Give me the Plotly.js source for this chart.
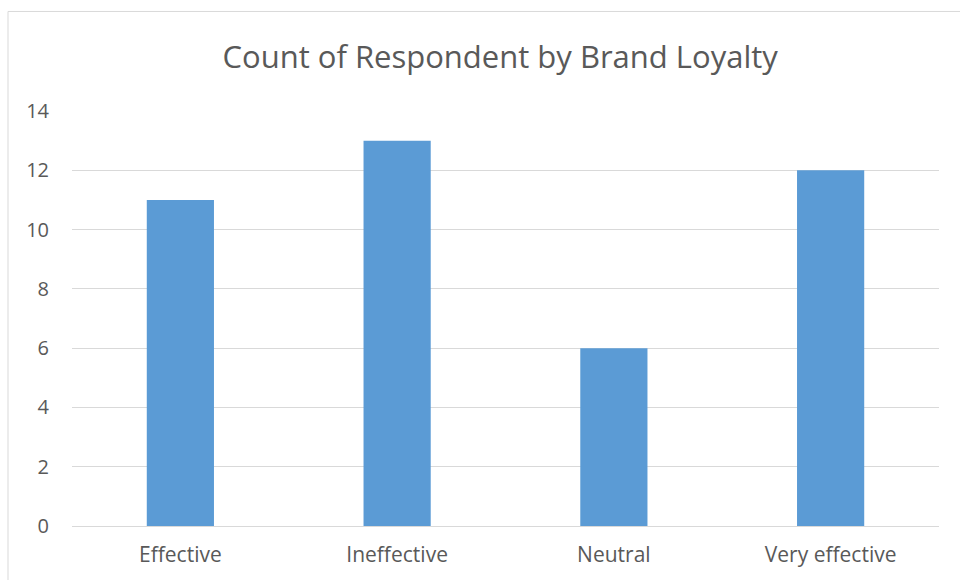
<!DOCTYPE html>
<html>
<head>
<meta charset="utf-8">
<script src="https://cdn.plot.ly/plotly-3.0.1.min.js"></script>
<style>
html,body{margin:0;padding:0;background:#fff;}
#chart{width:960px;height:580px;}
</style>
</head>
<body>
<div id="chart"></div>
<script>
const categories = ["Effective", "Ineffective", "Neutral", "Very effective"];
const counts = [11, 13, 6, 12];
const yTicks = [0, 2, 4, 6, 8, 10, 12, 14];

const trace = {
  type: "bar",
  x: categories,
  y: counts,
  marker: {color: "#5b9bd5"},
  hoverinfo: "x+y"
};

const layout = {
  width: 960,
  height: 580,
  margin: {l: 72, r: 21, t: 111, b: 54, pad: 0},
  paper_bgcolor: "#ffffff",
  plot_bgcolor: "#ffffff",
  font: {family: "Open Sans, sans-serif", color: "#595959", size: 19},
  title: {
    text: "Count of Respondent by Brand Loyalty",
    font: {family: "Open Sans, sans-serif", size: 31, color: "#595959"},
    x: 0.521, xanchor: "center",
    y: 0.902, yanchor: "middle", yref: "container"
  },
  bargap: 0.69,
  showlegend: false,
  xaxis: {
    type: "category",
    showgrid: false,
    showline: false,
    zeroline: false,
    ticks: "",
    ticklabelstandoff: 14,
    tickfont: {size: 21, color: "#595959"}
  },
  yaxis: {
    range: [0, 14],
    tickvals: yTicks,
    ticktext: yTicks.map(String),
    showgrid: true,
    gridcolor: "#d9d9d9",
    gridwidth: 1,
    zeroline: true,
    zerolinecolor: "#d9d9d9",
    zerolinewidth: 1,
    showline: false,
    ticks: "",
    ticklabelstandoff: 22,
    tickfont: {size: 20, color: "#595959"}
  },
  shapes: [{
    type: "rect",
    xref: "paper", yref: "paper",
    x0: -0.0738, x1: 1.2,
    y0: -0.3, y1: 1.2398,
    line: {color: "#d9d9d9", width: 1},
    fillcolor: "rgba(0,0,0,0)",
    layer: "below"
  }]
};

Plotly.newPlot("chart", [trace], layout, {displayModeBar: false, staticPlot: true});
</script>
</body>
</html>
